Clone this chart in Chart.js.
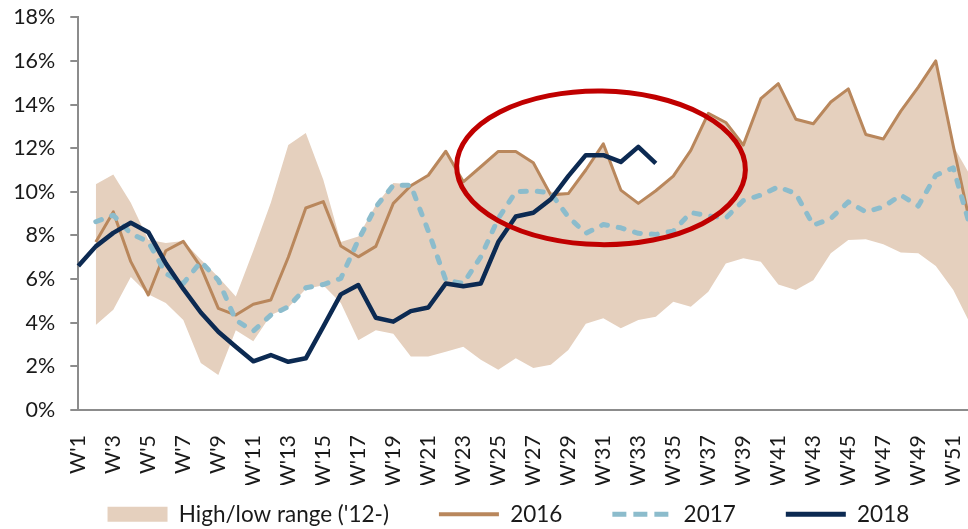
<!DOCTYPE html>
<html>
<head>
<meta charset="utf-8">
<script src="https://cdn.jsdelivr.net/npm/chart.js@4.4.1/dist/chart.umd.min.js"></script>
<style>
  html, body { margin: 0; padding: 0; background: #fff; overflow: hidden; }
  #wrap { width: 972px; height: 529px; position: relative; }
</style>
</head>
<body>
<div id="wrap"><canvas id="chart"></canvas></div>
<script>
// weeks on the x axis
const weeks = [
  "W'1", "W'2", "W'3", "W'4", "W'5", "W'6", "W'7", "W'8", "W'9", "W'10",
  "W'11", "W'12", "W'13", "W'14", "W'15", "W'16", "W'17", "W'18", "W'19", "W'20",
  "W'21", "W'22", "W'23", "W'24", "W'25", "W'26", "W'27", "W'28", "W'29", "W'30",
  "W'31", "W'32", "W'33", "W'34", "W'35", "W'36", "W'37", "W'38", "W'39", "W'40",
  "W'41", "W'42", "W'43", "W'44", "W'45", "W'46", "W'47", "W'48", "W'49", "W'50",
  "W'51", "W'52"
];

// high/low range since 2012 (%)
const rangeHigh = [
  null, 10.35, 10.8, 9.5, 7.8, 7.65, 7.75, 6.9, 6.1, 5.2,
  7.3, 9.5, 12.15, 12.7, 10.55, 7.7, 7.95, 9.4, 10.4, 10.35,
  10.78, 11.88, 10.48, 11.15, 11.88, 11.88, 11.36, 10.0, 9.95, 11.05,
  12.22, 10.1, 9.48, 10.08, 10.72, 11.92, 13.62, 13.2, 12.16, 14.28,
  14.97, 13.33, 13.12, 14.13, 14.73, 12.64, 12.43, 13.72, 14.82, 16.02,
  12.1, 10.7
];
const rangeLow = [
  null, 3.9, 4.6, 6.1, 5.3, 4.9, 4.12, 2.15, 1.6, 3.65,
  3.15, 4.35, 4.7, 5.55, 5.72, 4.9, 3.2, 3.65, 3.5, 2.45,
  2.45, 2.67, 2.9, 2.3, 1.85, 2.37, 1.92, 2.07, 2.75, 3.95,
  4.2, 3.75, 4.12, 4.27, 4.96, 4.73, 5.42, 6.72, 6.95, 6.8,
  5.75, 5.5, 5.95, 7.18, 7.79, 7.83, 7.6, 7.22, 7.18, 6.6,
  5.5, 3.9
];

const y2016 = [
  null, 7.7, 9.08, 6.8, 5.27, 7.3, 7.73, 6.56, 4.66, 4.35,
  4.85, 5.04, 7.0, 9.26, 9.55, 7.52, 7.02, 7.5, 9.47, 10.28,
  10.76, 11.86, 10.46, 11.15, 11.85, 11.85, 11.33, 9.85, 9.92, 11.0,
  12.2, 10.08, 9.47, 10.05, 10.72, 11.9, 13.6, 13.18, 12.14, 14.27,
  14.96, 13.33, 13.12, 14.12, 14.72, 12.63, 12.42, 13.7, 14.8, 16.0,
  12.1, 8.4
];
const y2017 = [
  null, 8.63, 8.93, 8.09, 7.71, 6.26, 5.8, 6.8, 5.95, 4.12,
  3.62, 4.35, 4.73, 5.6, 5.75, 6.03, 7.79, 9.31, 10.3, 10.3,
  8.2, 5.95, 5.8, 7.02, 8.78, 10.0, 10.05, 9.95, 8.85, 8.1,
  8.5, 8.35, 8.1, 8.05, 8.2, 9.05, 8.9, 8.8, 9.6, 9.85,
  10.23, 9.92, 8.47, 8.78, 9.54, 9.08, 9.31, 9.85, 9.35, 10.76,
  11.1, 8.3
];
const y2018 = [
  6.6, 7.5, 8.12, 8.58, 8.15, 6.72, 5.55, 4.47, 3.59, 2.9,
  2.23, 2.52, 2.21, 2.37, 3.82, 5.3, 5.73, 4.23, 4.05, 4.53,
  4.7, 5.8, 5.67, 5.8, 7.7, 8.87, 9.04, 9.66, 10.72, 11.68,
  11.68, 11.37, 12.06, 11.3
];

const yTicks = [0, 2, 4, 6, 8, 10, 12, 14, 16, 18];

// red ring around the latest weeks (week index, %, half sizes)
const ring = { week: 29.87, pct: 11.1, halfWeeks: 8.25, halfPct: 3.52 };

const RANGE = '#E5D0BE';
const BROWN = '#B9875C';
const BLUE = '#8CBCCC';
const NAVY = '#0C2A52';
const AXIS = '#8C8C8C';
const TEXT = '#1a1a1a';

Chart.defaults.font.family = 'Lato, "Open Sans", sans-serif';
Chart.defaults.font.size = 21.5;
Chart.defaults.color = TEXT;

const ringPlugin = {
  id: 'ring',
  afterDatasetsDraw(chart) {
    const { ctx, scales: { x, y } } = chart;
    const cx = x.getPixelForValue(ring.week);
    const cy = y.getPixelForValue(ring.pct);
    const rx = x.getPixelForValue(ring.week + ring.halfWeeks) - cx;
    const ry = cy - y.getPixelForValue(ring.pct + ring.halfPct);
    ctx.save();
    ctx.beginPath();
    ctx.ellipse(cx, cy, rx, ry, 0.015, 0, Math.PI * 2);
    ctx.strokeStyle = '#C00000';
    ctx.lineWidth = 5;
    ctx.stroke();
    ctx.restore();
  }
};

// legend row sits a bit higher and further right than the default spot
const legendPlace = {
  id: 'legendPlace',
  afterLayout(chart) {
    const lg = chart.legend;
    lg.left += 23;
    lg.right += 23;
    lg.top -= 32;
    lg.bottom -= 32;
  }
};

new Chart(document.getElementById('chart'), {
  type: 'line',
  data: {
    labels: weeks,
    datasets: [
      { label: '2018', data: y2018, borderColor: NAVY, borderWidth: 4.5, order: 0 },
      { label: '2017', data: y2017, borderColor: BLUE, borderWidth: 5, borderDash: [6, 11], borderCapStyle: 'round', order: 1 },
      { label: '2016', data: y2016, borderColor: BROWN, borderWidth: 3, order: 2 },
      { label: 'low', data: rangeLow, borderWidth: 0, borderColor: 'rgba(0,0,0,0)', order: 3 },
      { label: "High/low range ('12-)", data: rangeHigh, borderWidth: 0, borderColor: 'rgba(0,0,0,0)',
        backgroundColor: RANGE, fill: '-1', order: 4 }
    ]
  },
  options: {
    responsive: true,
    maintainAspectRatio: false,
    animation: false,
    events: [],
    elements: {
      point: { radius: 0 },
      line: { tension: 0, borderJoinStyle: 'round' }
    },
    layout: { padding: { left: 0, right: 1.2, top: 17.3, bottom: -38.5 } },
    plugins: {
      tooltip: { enabled: false },
      legend: {
        position: 'bottom',
        labels: {
          font: { size: 22.5 },
          usePointStyle: true,
          pointStyleWidth: 60,
          boxHeight: 15,
          padding: 50,
          generateLabels: () => [
            { text: "High/low range ('12-)", fillStyle: RANGE, strokeStyle: RANGE, lineWidth: 0, pointStyle: 'rect', fontColor: TEXT },
            { text: '2016', fillStyle: BROWN, strokeStyle: BROWN, lineWidth: 4, pointStyle: 'line', fontColor: TEXT },
            { text: '2017', fillStyle: BLUE, strokeStyle: BLUE, lineWidth: 5, lineDash: [14, 7], pointStyle: 'line', fontColor: TEXT },
            { text: '2018', fillStyle: NAVY, strokeStyle: NAVY, lineWidth: 5, pointStyle: 'line', fontColor: TEXT }
          ]
        }
      }
    },
    scales: {
      x: {
        grid: { display: false, drawTicks: false },
        border: { display: true, color: AXIS, width: 2 },
        ticks: {
          autoSkip: false,
          maxRotation: 90,
          minRotation: 90,
          padding: 25,
          callback: (v, i) => (i % 2 === 0 ? weeks[i] : '')
        },
        afterFit(scale) {
          scale.height = 75;
          scale.paddingLeft = 0;
          scale.paddingRight = 0;
        }
      },
      y: {
        min: yTicks[0],
        max: yTicks[yTicks.length - 1],
        grid: { display: true, drawOnChartArea: false, drawTicks: true, tickLength: 8, color: AXIS, lineWidth: 2 },
        border: { display: true, color: AXIS, width: 2 },
        afterBuildTicks(scale) {
          scale.ticks = yTicks.map(v => ({ value: v }));
        },
        ticks: {
          padding: 15,
          callback: v => v + '%'
        },
        afterFit(scale) {
          scale.width = 78.3;
          scale.paddingTop = 0;
          scale.paddingBottom = 0;
        }
      }
    }
  },
  plugins: [ringPlugin, legendPlace]
});
</script>
</body>
</html>
